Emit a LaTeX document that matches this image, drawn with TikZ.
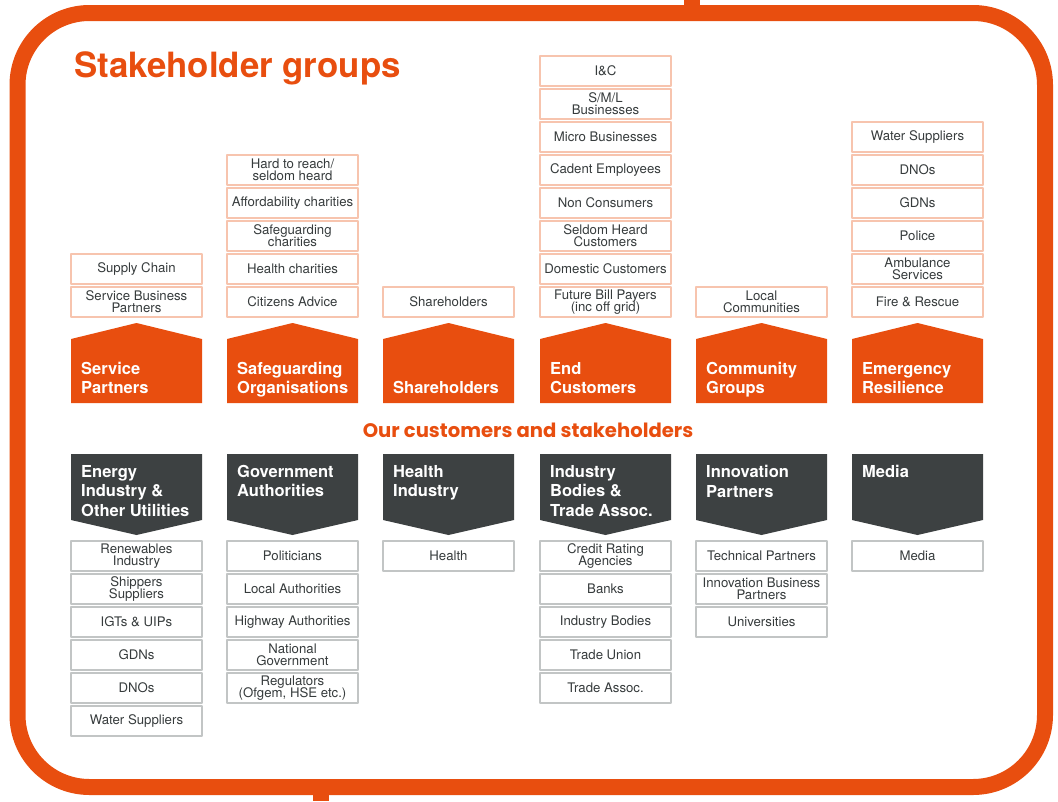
\documentclass[tikz,border=0pt]{standalone}
\usepackage{fontspec}
\setmainfont{TeX Gyre Heros}
\newfontfamily\geofont{Poppins}
\definecolor{cadorange}{HTML}{E84E0F}
\definecolor{cadgrey}{HTML}{3D4142}
\definecolor{paleorange}{HTML}{F7C4AE}
\definecolor{palegrey}{HTML}{C2C5C5}
\definecolor{itemtext}{HTML}{363B3C}
\setlength{\lineskiplimit}{-10pt}
\tikzset{
	itemup/.style={draw=paleorange, line width=1.3, minimum width=131, minimum height=30, inner sep=0, align=center, text=itemtext, font=\fontsize{13.2}{11.8}\selectfont},
	itemdown/.style={itemup, draw=palegrey},
	headtext/.style={anchor=north west, inner sep=0, align=left, text=white, font=\bfseries\fontsize{16.5}{19.5}\selectfont},
	housefill/.style={fill=cadorange},
	arrowfill/.style={fill=cadgrey}
}
\begin{document}
\begin{tikzpicture}[x=1pt,y=-1pt,line join=round]
			\useasboundingbox (0,0) rectangle (1058,801);
			\def \hw{65.5};
			\draw[cadorange, line width=16, rounded corners=72] (17.5,13) rectangle (1045,787);
			\fill[cadorange] (684,0) rectangle (700,6);
			\fill[cadorange] (313,794) rectangle (329,801);
			\node[anchor=base west, inner sep=0, text=cadorange, font=\bfseries\fontsize{34.8}{40}\selectfont] (title) at (74,77) {Stakeholder groups};
			\node[anchor=base, inner sep=0, text=cadorange, font=\geofont\bfseries\fontsize{19.6}{24}\selectfont] (ours) at (528,437) {Our customers and stakeholders};
			\foreach \c in {136.5,292.5,448.5,605.5,761.5,917.5}
			{
				\fill[housefill] (\c-\hw,339) -- (\c,323) -- (\c+\hw,339) -- (\c+\hw,403) -- (\c-\hw,403) -- cycle;
				\fill[arrowfill] (\c-\hw,454) -- (\c+\hw,454) -- (\c+\hw,520) -- (\c,535) -- (\c-\hw,520) -- cycle;
			}
			\node[headtext] (sp) at (81,362) {Service\\Partners};
			\node[headtext] (so) at (237,362) {Safeguarding\\Organisations};
			\node[headtext] (sh) at (393,362) {\vphantom{S}\\Shareholders};
			\node[headtext] (ec) at (550,362) {End\\Customers};
			\node[headtext] (cg) at (706,362) {Community\\Groups};
			\node[headtext] (er) at (862,362) {Emergency\\Resilience};
			\node[headtext] (eu) at (81,465) {Energy\\Industry \&\\Other Utilities};
			\node[headtext] (ga) at (237,465) {Government\\Authorities};
			\node[headtext] (hi) at (393,465) {Health\\Industry};
			\node[headtext] (ib) at (550,465) {Industry\\Bodies \&\\Trade Assoc.};
			\node[headtext] (ip) at (706,465) {Innovation\\Partners};
			\node[headtext] (md) at (862,465) {Media};
			\foreach \t [count=\i] in {Supply Chain,{Service Business\\Partners}}
			{
				\node[itemup] (sp\i) at (136.5,{302-33*(2-\i)}) {\t};
			}
			\foreach \t [count=\i] in {{Hard to reach/\\seldom heard},Affordability charities,{Safeguarding\\charities},Health charities,Citizens Advice}
			{
				\node[itemup] (so\i) at (292.5,{302-33*(5-\i)}) {\t};
			}
			\node[itemup] (sh1) at (448.5,302) {Shareholders};
			\foreach \t [count=\i] in {I\&C,{S/M/L\\Businesses},Micro Businesses,Cadent Employees,Non Consumers,{Seldom Heard\\Customers},Domestic Customers,{Future Bill Payers\\(inc off grid)}}
			{
				\node[itemup] (ec\i) at (605.5,{302-33*(8-\i)}) {\t};
			}
			\node[itemup] (cg1) at (761.5,302) {Local\\Communities};
			\foreach \t [count=\i] in {Water Suppliers,DNOs,GDNs,Police,{Ambulance\\Services},Fire \& Rescue}
			{
				\node[itemup] (er\i) at (917.5,{302-33*(6-\i)}) {\t};
			}
			\foreach \t [count=\i] in {{Renewables\\Industry},{Shippers\\Suppliers},IGTs \& UIPs,GDNs,DNOs,Water Suppliers}
			{
				\node[itemdown] (eu\i) at (136.5,{556+33*(\i-1)}) {\t};
			}
			\foreach \t [count=\i] in {Politicians,Local Authorities,Highway Authorities,{National\\Government},{Regulators\\(Ofgem, HSE etc.)}}
			{
				\node[itemdown] (ga\i) at (292.5,{556+33*(\i-1)}) {\t};
			}
			\node[itemdown] (hi1) at (448.5,556) {Health};
			\foreach \t [count=\i] in {{Credit Rating\\Agencies},Banks,Industry Bodies,Trade Union,Trade Assoc.}
			{
				\node[itemdown] (ib\i) at (605.5,{556+33*(\i-1)}) {\t};
			}
			\foreach \t [count=\i] in {Technical Partners,{Innovation Business\\Partners},Universities}
			{
				\node[itemdown] (ip\i) at (761.5,{556+33*(\i-1)}) {\t};
			}
			\node[itemdown] (md1) at (917.5,556) {Media};
		\end{tikzpicture}
\end{document}
